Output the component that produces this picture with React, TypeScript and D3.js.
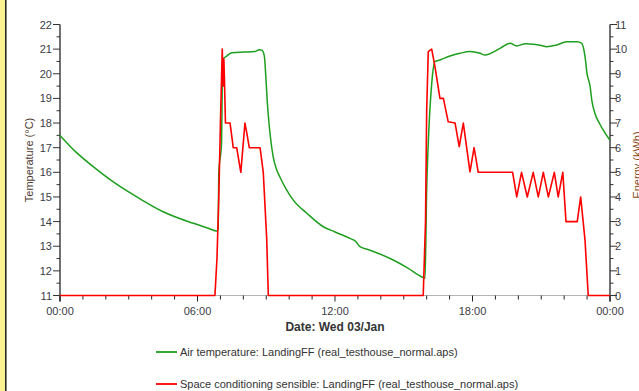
import React from "react";
import * as d3 from "d3";

const tempHours = [0, 0.7, 1.45, 2.31, 3.39, 4.5, 5.82, 6.5, 6.84, 6.9, 6.93, 7.05, 7.08, 7.12, 7.25, 7.5, 8.0, 8.5, 8.7, 8.82, 8.92, 8.98, 9.05, 9.14, 9.31, 9.46, 9.6, 9.85, 10.18, 10.77, 11.49, 12.0, 12.65, 12.9, 13.09, 13.5, 14.54, 15.2, 15.78, 15.93, 16.0, 16.07, 16.22, 16.36, 16.58, 17.02, 17.45, 17.89, 18.33, 18.54, 19.2, 19.64, 19.93, 20.3, 20.65, 21.0, 21.24, 21.67, 22.11, 22.55, 22.76, 22.91, 23.0, 23.13, 23.21, 23.34, 23.56, 23.78, 24.0];
const tempValues = [17.5, 16.82, 16.23, 15.62, 14.98, 14.4, 13.93, 13.72, 13.62, 13.7, 16.0, 17.2, 19.5, 20.6, 20.7, 20.85, 20.88, 20.9, 20.98, 20.95, 20.7, 19.9, 18.8, 17.8, 16.6, 16.09, 15.8, 15.35, 14.87, 14.34, 13.79, 13.58, 13.32, 13.2, 12.98, 12.85, 12.44, 12.1, 11.76, 11.7, 15.28, 17.18, 19.6, 20.49, 20.56, 20.72, 20.83, 20.9, 20.83, 20.76, 21.03, 21.24, 21.13, 21.22, 21.2, 21.15, 21.1, 21.17, 21.3, 21.3, 21.24, 20.7, 20.0, 19.5, 18.9, 18.4, 17.95, 17.6, 17.3];

const powerHours = [0, 6.76, 6.85, 6.93, 7.0, 7.08, 7.12, 7.15, 7.18, 7.22, 7.42, 7.56, 7.71, 7.89, 8.07, 8.15, 8.26, 8.73, 8.87, 9.02, 9.09, 15.85, 15.95, 16.0, 16.07, 16.22, 16.36, 16.58, 16.73, 16.94, 17.24, 17.42, 17.6, 17.89, 18.07, 18.25, 19.75, 19.93, 20.14, 20.39, 20.65, 20.87, 21.09, 21.31, 21.57, 21.74, 21.94, 22.08, 22.57, 22.72, 22.91, 23.05, 24.0];
const powerValues = [0, 0, 1.5, 4.0, 7.0, 10.0, 8.5, 9.6, 8.6, 7.0, 7.0, 6.0, 6.0, 5.0, 7.0, 6.6, 6.0, 6.0, 5.0, 2.3, 0, 0, 3.0, 7.5, 9.9, 10.0, 9.3, 8.0, 8.0, 7.05, 7.0, 6.04, 7.0, 5.02, 6.0, 5.0, 5.0, 4.0, 5.0, 4.0, 5.0, 4.0, 5.0, 4.0, 5.0, 4.0, 5.0, 3.0, 3.0, 4.0, 2.25, 0, 0];

const xTickLabels = ["00:00", "06:00", "12:00", "18:00", "00:00"];
const leftTicks = [11, 12, 13, 14, 15, 16, 17, 18, 19, 20, 21, 22];
const rightTicks = [0, 1, 2, 3, 4, 5, 6, 7, 8, 9, 10, 11];

const legendLabels = [
  "Air temperature: LandingFF (real_testhouse_normal.aps)",
  "Space conditioning sensible: LandingFF (real_testhouse_normal.aps)",
];
const seriesColors = ["#1e9e1e", "#ff0000"];

export default function App() {
  const W = 639, H = 391;
  const x0 = 60, x1 = 610, yTop = 24.5, yBot = 295.5;
  const x = d3.scaleLinear().domain([0, 24]).range([x0, x1]);
  const yL = d3.scaleLinear().domain([11, 22]).range([yBot, yTop]);
  const yR = d3.scaleLinear().domain([0, 11]).range([yBot, yTop]);

  const tempLine = d3.line<number>().x((_, i) => x(tempHours[i])).y((v) => yL(v)).curve(d3.curveMonotoneX);
  const powerLine = d3.line<number>().x((_, i) => x(powerHours[i])).y((v) => yR(v));

  const font = "'Liberation Sans', Arial, sans-serif";
  const tickColor = "#3c3c46";
  const hours = d3.range(0, 25);
  const halfL = d3.range(11, 22.01, 0.5);
  const halfR = d3.range(0, 11.01, 0.5);

  return (
    <div style={{ position: "fixed", left: 0, top: 0, width: W, height: H, background: "#fff", overflow: "hidden" }}>
      <svg width={W} height={H} style={{ display: "block" }} fontFamily={font}>
        <rect x={0} y={0} width={5} height={H} fill="#f8f38e" />
        <rect x={5} y={0} width={1.6} height={H} fill="#2a2a2a" />

        {/* x axis */}
        <line x1={x0} x2={x1} y1={yBot} y2={yBot} stroke="#b4b4b4" strokeWidth={1.2} />
        {hours.map((h) => (
          <line key={"xt" + h} x1={x(h)} x2={x(h)} y1={yBot} y2={yBot + (h % 6 === 0 ? 6 : 4)} stroke="#222" strokeWidth={1} />
        ))}
        {xTickLabels.map((t, i) => (
          <text key={"xl" + i} x={x(i * 6)} y={315} textAnchor="middle" fontSize={11} fill={tickColor}>{t}</text>
        ))}
        <text x={335} y={331} textAnchor="middle" fontSize={12} fontWeight="bold" fill="#333">Date: Wed 03/Jan</text>

        {/* left axis */}
        <line x1={x0} x2={x0} y1={yTop} y2={yBot + 6} stroke="#111" strokeWidth={1.2} />
        {halfL.map((v) => (
          <line key={"lt" + v} x1={x0 - (Math.abs(v - Math.round(v)) < 0.01 ? 7 : 3.5)} x2={x0} y1={yL(v)} y2={yL(v)} stroke="#333" strokeWidth={1} />
        ))}
        {leftTicks.map((v) => (
          <text key={"ll" + v} x={52} y={yL(v) + 4} textAnchor="end" fontSize={11} fill={tickColor}>{v}</text>
        ))}
        <text transform={`translate(33,160) rotate(-90)`} textAnchor="middle" fontSize={11} fill="#4d3a32">Temperature (°C)</text>

        {/* right axis */}
        <line x1={x1} x2={x1} y1={yTop} y2={yBot + 6} stroke="#111" strokeWidth={1.2} />
        {halfR.map((v) => (
          <line key={"rt" + v} x1={x1} x2={x1 + (Math.abs(v - Math.round(v)) < 0.01 ? 7 : 3.5)} y1={yR(v)} y2={yR(v)} stroke="#333" strokeWidth={1} />
        ))}
        {rightTicks.map((v) => (
          <text key={"rl" + v} x={615} y={yR(v) + 4} textAnchor="start" fontSize={11} fill={tickColor}>{v}</text>
        ))}
        <text transform={`translate(641,165) rotate(-90)`} textAnchor="middle" fontSize={11} fill="#8a4a22">Energy (kWh)</text>

        {/* series */}
        <path d={tempLine(tempValues) || ""} fill="none" stroke={seriesColors[0]} strokeWidth={1.5} strokeLinejoin="round" />
        <path d={powerLine(powerValues) || ""} fill="none" stroke={seriesColors[1]} strokeWidth={1.6} strokeLinejoin="round" />

        {/* legend */}
        {legendLabels.map((l, i) => (
          <g key={"lg" + i}>
            <line x1={156} x2={177} y1={352 + i * 32} y2={352 + i * 32} stroke={seriesColors[i]} strokeWidth={1.8} />
            <text x={180} y={356 + i * 32} fontSize={11} fill="#333">{l}</text>
          </g>
        ))}
      </svg>
    </div>
  );
}
